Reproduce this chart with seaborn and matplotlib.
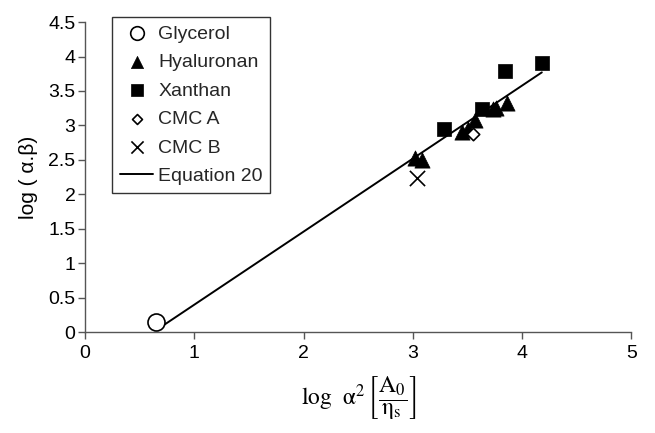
import matplotlib
matplotlib.use("Agg")
import matplotlib.pyplot as plt
import seaborn as sns

sns.set_theme(style="white")
plt.rcParams['font.family'] = ['Liberation Sans', 'DejaVu Sans']
plt.rcParams['mathtext.fontset'] = 'stix'

glycerol_x = [0.65]
glycerol_y = [0.15]
hyal_x = [3.02, 3.08, 3.45, 3.50, 3.57, 3.73, 3.76, 3.86]
hyal_y = [2.52, 2.50, 2.91, 2.95, 3.08, 3.24, 3.26, 3.32]
xan_x = [3.28, 3.63, 3.84, 4.18]
xan_y = [2.95, 3.24, 3.79, 3.91]
cmca_x = [3.55]
cmca_y = [2.88]
cmcb_x = [3.04]
cmcb_y = [2.24]
eq_x = [0.68, 4.18]
eq_y = [0.06, 3.77]

fig = plt.figure(figsize=(6.55, 4.33), dpi=100)
ax = fig.add_axes([0.130, 0.233, 0.834, 0.716])

sns.scatterplot(x=glycerol_x, y=glycerol_y, ax=ax, marker='o', s=150,
                facecolor='white', edgecolor='black', linewidth=1.2, label='Glycerol', zorder=3)
sns.scatterplot(x=hyal_x, y=hyal_y, ax=ax, marker='^', s=120,
                color='black', edgecolor='black', linewidth=0.5, label='Hyaluronan', zorder=3)
sns.scatterplot(x=xan_x, y=xan_y, ax=ax, marker='s', s=110,
                color='black', edgecolor='black', linewidth=0.5, label='Xanthan', zorder=3)
sns.scatterplot(x=cmca_x, y=cmca_y, ax=ax, marker='D', s=40,
                facecolor='white', edgecolor='black', linewidth=1.2, label='CMC A', zorder=4)
sns.scatterplot(x=cmcb_x, y=cmcb_y, ax=ax, marker='x', s=120,
                color='black', linewidth=1.2, label='CMC B', zorder=3)
sns.lineplot(x=eq_x, y=eq_y, ax=ax, color='black', linewidth=1.4,
             label='Equation 20', zorder=2)

ax.set_xlim(0, 5)
ax.set_ylim(0, 4.5)
ax.set_xticks([0, 1, 2, 3, 4, 5])
ax.set_yticks([0, 0.5, 1, 1.5, 2, 2.5, 3, 3.5, 4, 4.5])
ax.set_yticklabels(['0', '0.5', '1', '1.5', '2', '2.5', '3', '3.5', '4', '4.5'])

for side in ['top', 'right']:
    ax.spines[side].set_visible(False)
for side in ['left', 'bottom']:
    ax.spines[side].set_color('#555555')
    ax.spines[side].set_linewidth(1.0)

ax.tick_params(axis='both', which='both', direction='out', length=5, width=1,
               color='#555555', labelsize=14, labelcolor='black')
ax.tick_params(axis='x', bottom=True, pad=4)
ax.tick_params(axis='y', left=True, pad=2)

ax.set_ylabel('log ( α.β)', fontsize=15, color='black', labelpad=7)
ax.set_xlabel(r'$\mathrm{log}\ \ \mathrm{α}^{2}\,\left[\dfrac{\mathrm{A}_{0}}{\mathrm{η}_{\mathrm{s}}}\right]$',
              fontsize=17, color='black', labelpad=9)

leg = ax.legend(loc='upper left', bbox_to_anchor=(0.05, 1.016), frameon=True,
                fancybox=False, edgecolor='black', fontsize=14,
                handlelength=1.7, handletextpad=0.25, labelspacing=0.56,
                borderpad=0.4, borderaxespad=0, markerscale=0.8)
leg.get_frame().set_linewidth(1.0)

fig.savefig('out.png', dpi=100)
